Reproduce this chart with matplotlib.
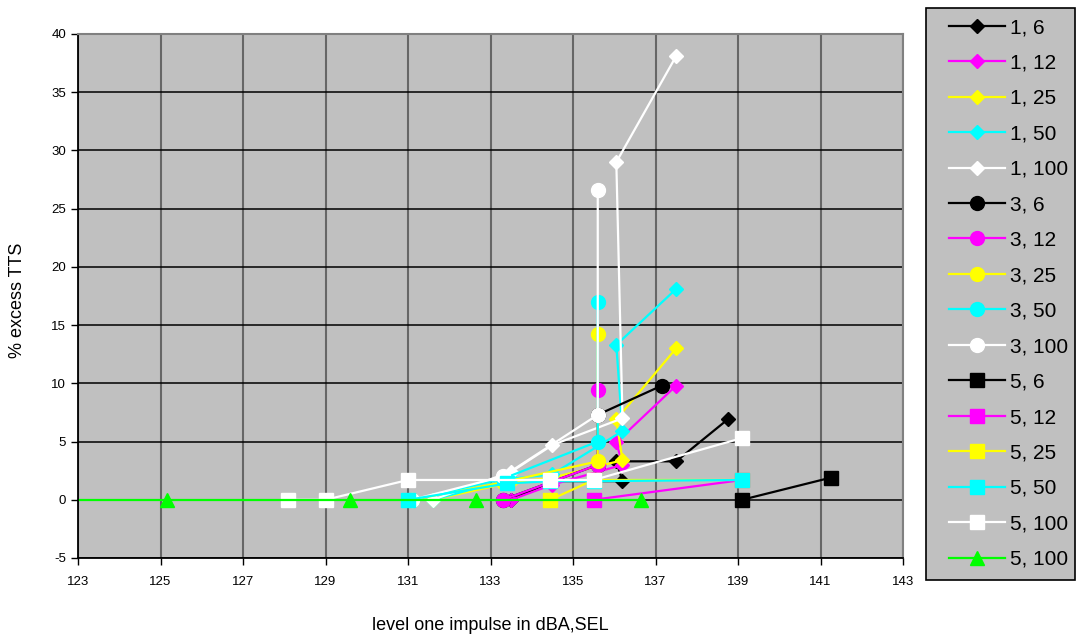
import matplotlib
matplotlib.use("Agg")
import matplotlib.pyplot as plt
from matplotlib.patches import Rectangle

plt.rcParams['font.family'] = ['Liberation Sans', 'DejaVu Sans']
plt.rcParams['axes.unicode_minus'] = False

# series data: level (dBA,SEL) vs % excess TTS
labels = ["1, 6", "1, 12", "1, 25", "1, 50", "1, 100",
          "3, 6", "3, 12", "3, 25", "3, 50", "3, 100",
          "5, 6", "5, 12", "5, 25", "5, 50", "5, 100", "5, 100"]

x_1_6 = [133.5, 134.5, 136.2, 136.05, 137.5, 138.75]
y_1_6 = [0, 1.6, 1.6, 3.3, 3.3, 6.9]
x_1_12 = [133.5, 134.5, 136.2, 136.05, 137.5]
y_1_12 = [0, 1.3, 3.0, 4.95, 9.8]
x_1_25 = [131.6, 133.5, 134.5, 136.2, 136.05, 137.5]
y_1_25 = [0, 1.5, 1.9, 3.4, 6.9, 13.0]
x_1_50 = [131.6, 133.5, 134.5, 136.2, 136.05, 137.5]
y_1_50 = [0, 1.8, 2.2, 5.9, 13.3, 18.1]
x_1_100 = [131.6, 133.5, 134.5, 136.2, 136.05, 137.5]
y_1_100 = [0, 2.4, 4.7, 7.0, 29.0, 38.1]

x_3_6 = [133.3, 135.6, 135.6, 137.15]
y_3_6 = [0, 3.0, 7.3, 9.8]
x_3_12 = [133.3, 135.6, 135.6]
y_3_12 = [0, 3.0, 9.45]
x_3_25 = [131.1, 133.3, 135.6, 135.6]
y_3_25 = [0, 1.5, 3.3, 14.2]
x_3_50 = [131.1, 133.3, 135.6, 135.6]
y_3_50 = [0, 1.8, 5.0, 17.0]
x_3_100 = [131.1, 133.3, 135.6, 135.6]
y_3_100 = [0, 2.0, 7.3, 26.6]

x_5_6 = [139.1, 141.25]
y_5_6 = [0, 1.9]
x_5_12 = [135.5, 139.1]
y_5_12 = [0, 1.7]
x_5_25 = [134.45, 135.5, 139.1]
y_5_25 = [0, 1.7, 1.7]
x_5_50 = [131.0, 133.4, 134.45, 135.5, 139.1]
y_5_50 = [0, 1.4, 1.6, 1.6, 1.7]
x_5_100 = [128.1, 129.0, 131.0, 134.45, 135.5, 139.1]
y_5_100 = [0, 0, 1.7, 1.7, 1.7, 5.3]
x_5_100b = [121, 125.15, 129.6, 132.65, 136.65]
y_5_100b = [0, 0, 0, 0, 0]

xs = [x_1_6, x_1_12, x_1_25, x_1_50, x_1_100,
      x_3_6, x_3_12, x_3_25, x_3_50, x_3_100,
      x_5_6, x_5_12, x_5_25, x_5_50, x_5_100, x_5_100b]
ys = [y_1_6, y_1_12, y_1_25, y_1_50, y_1_100,
      y_3_6, y_3_12, y_3_25, y_3_50, y_3_100,
      y_5_6, y_5_12, y_5_25, y_5_50, y_5_100, y_5_100b]

cols = ["#000000", "#FF00FF", "#FFFF00", "#00FFFF", "#FFFFFF"]
colors = cols * 3 + ["#00FF00"]
markers = ["D"] * 5 + ["o"] * 5 + ["s"] * 5 + ["^"]
msizes = [7] * 5 + [10] * 5 + [9.5] * 5 + [10]

W, H = 1078, 639
fig = plt.figure(figsize=(W / 100, H / 100), dpi=100)
ax = fig.add_axes([78 / W, 1 - 558 / H, 825 / W, 524 / H])
ax.set_facecolor("#C0C0C0")

for i in range(len(labels)):
    ax.plot(xs[i], ys[i], color=colors[i], marker=markers[i], ms=msizes[i],
            mec=colors[i], mfc=colors[i], lw=1.6, label=labels[i])

ax.set_xlim(123, 143)
ax.set_ylim(-5, 40)
ax.set_xticks(range(123, 144, 2))
ax.set_yticks(range(-5, 41, 5))
ax.xaxis.grid(True, color="#666666", lw=1.5)
ax.yaxis.grid(True, color="black", lw=1.1)
ax.set_axisbelow(True)
ax.tick_params(direction="out", length=5, width=1, labelsize=9.5, colors="black")
ax.tick_params(axis="x", pad=8)
for s in ["top", "right"]:
    ax.spines[s].set_color("#808080")
    ax.spines[s].set_linewidth(1.5)
for s in ["left", "bottom"]:
    ax.spines[s].set_color("black")
    ax.spines[s].set_linewidth(1.3)

fig.text(490 / W, 1 - 626 / H, "level one impulse in dBA,SEL", ha="center", va="center", fontsize=13)
fig.text(18 / W, 1 - 300 / H, "% excess TTS", rotation=90, ha="center", va="center", fontsize=13)

# legend box
fig.patches.append(Rectangle((926 / W, 1 - 580 / H), 149 / W, 572 / H, transform=fig.transFigure,
                             facecolor="#C0C0C0", edgecolor="black", lw=1.2, zorder=0))
leg = fig.legend(loc="upper left", bbox_to_anchor=(949 / W, 1 - 18 / H), bbox_transform=fig.transFigure,
                 fontsize=15, frameon=False, handlelength=2.7,
                 labelspacing=0.79, borderpad=0, handletextpad=0.25, borderaxespad=0)

fig.savefig("out.png", dpi=100, facecolor="white")
